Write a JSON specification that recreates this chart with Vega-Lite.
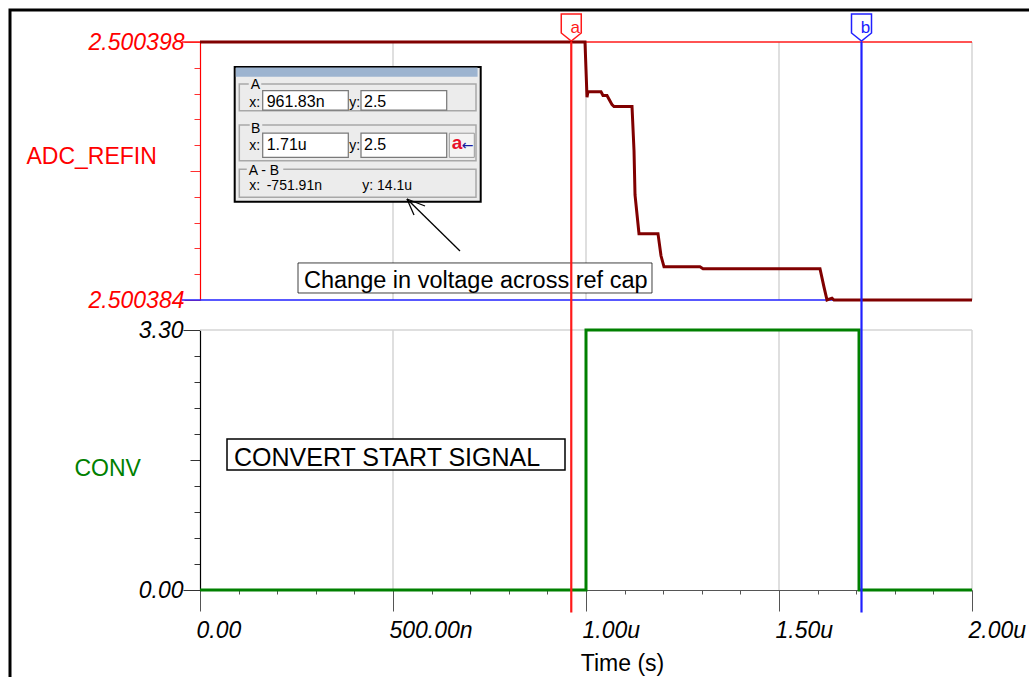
{
  "$schema": "https://vega.github.io/schema/vega-lite/v6.json",
  "width": 1021,
  "height": 669,
  "autosize": {"type": "none"},
  "padding": {"left": 10, "top": 10, "right": -2, "bottom": -2},
  "background": "white",
  "config": {"view": {"stroke": "#000000", "strokeWidth": 3}, "font": "Liberation Sans"},
  "datasets": {
    "refin": [
      {"t": 0, "v": 2.500398},
      {"t": 0.9974, "v": 2.500398},
      {"t": 1.0, "v": 2.5003965},
      {"t": 1.0026, "v": 2.500395},
      {"t": 1.0052, "v": 2.5003953},
      {"t": 1.0389, "v": 2.5003953},
      {"t": 1.044, "v": 2.5003951},
      {"t": 1.0544, "v": 2.5003951},
      {"t": 1.0622, "v": 2.5003948},
      {"t": 1.0674, "v": 2.5003946},
      {"t": 1.0725, "v": 2.5003945},
      {"t": 1.1192, "v": 2.5003945},
      {"t": 1.1244, "v": 2.5003921},
      {"t": 1.127, "v": 2.5003897},
      {"t": 1.1373, "v": 2.5003876},
      {"t": 1.1865, "v": 2.5003876},
      {"t": 1.1943, "v": 2.5003864},
      {"t": 1.2021, "v": 2.5003858},
      {"t": 1.2953, "v": 2.5003858},
      {"t": 1.3031, "v": 2.5003857},
      {"t": 1.6062, "v": 2.5003857},
      {"t": 1.6166, "v": 2.5003847},
      {"t": 1.6244, "v": 2.500384},
      {"t": 1.6373, "v": 2.5003841},
      {"t": 1.6425, "v": 2.500384},
      {"t": 2.0, "v": 2.500384}
    ],
    "conv": [
      {"i": 0, "t": 0, "v": 0},
      {"i": 1, "t": 1.0, "v": 0},
      {"i": 2, "t": 1.0, "v": 3.3},
      {"i": 3, "t": 1.7073, "v": 3.3},
      {"i": 4, "t": 1.7073, "v": 0},
      {"i": 5, "t": 2.0, "v": 0}
    ],
    "cursors": [
      {"cursor": "a", "t": 0.96183, "v": 2.500398},
      {"cursor": "b", "t": 1.71374, "v": 2.500384}
    ],
    "grid": [{"t": 0.5}, {"t": 1.0}, {"t": 1.5}, {"t": 2.0}],
    "boxes": [
      {"kind": "panel", "t": 0.0899, "t2": 0.7272, "v": 2.50039664, "v2": 2.50038933},
      {"kind": "titlebar", "t": 0.09508, "t2": 0.71684, "v": 2.50039657, "v2": 2.50039616},
      {"kind": "group", "t": 0.10181, "t2": 0.71503, "v": 2.50039572, "v2": 2.50039427},
      {"kind": "group", "t": 0.10181, "t2": 0.71503, "v": 2.5003935, "v2": 2.50039156},
      {"kind": "group", "t": 0.10181, "t2": 0.71503, "v": 2.50039109, "v2": 2.50038957},
      {"kind": "labelbg", "t": 0.12694, "t2": 0.15803, "v": 2.50039605, "v2": 2.50039545},
      {"kind": "labelbg", "t": 0.12953, "t2": 0.16062, "v": 2.50039371, "v2": 2.50039306},
      {"kind": "labelbg", "t": 0.12176, "t2": 0.21503, "v": 2.50039138, "v2": 2.50039073},
      {"kind": "field", "t": 0.16244, "t2": 0.3842, "v": 2.50039536, "v2": 2.50039431},
      {"kind": "field", "t": 0.4171, "t2": 0.63912, "v": 2.50039536, "v2": 2.50039431},
      {"kind": "field", "t": 0.16244, "t2": 0.3842, "v": 2.50039305, "v2": 2.50039174},
      {"kind": "field", "t": 0.4171, "t2": 0.63912, "v": 2.50039305, "v2": 2.50039174},
      {"kind": "button", "t": 0.64585, "t2": 0.71062, "v": 2.50039305, "v2": 2.50039174},
      {"kind": "note", "t": 0.25389, "t2": 1.17098, "v": 2.50038601, "v2": 2.50038438}
    ],
    "texts": [
      {"text": "A", "t": 0.13135, "v": 2.50039547, "role": "label"},
      {"text": "x:", "t": 0.12772, "v": 2.50039445, "role": "label"},
      {"text": "961.83n", "t": 0.1728, "v": 2.50039445, "role": "value"},
      {"text": "y:", "t": 0.38679, "v": 2.50039445, "role": "label"},
      {"text": "2.5", "t": 0.42487, "v": 2.50039445, "role": "value"},
      {"text": "B", "t": 0.13212, "v": 2.50039308, "role": "label"},
      {"text": "x:", "t": 0.12772, "v": 2.50039214, "role": "label"},
      {"text": "1.71u", "t": 0.1728, "v": 2.50039214, "role": "value"},
      {"text": "y:", "t": 0.38679, "v": 2.50039214, "role": "label"},
      {"text": "2.5", "t": 0.42487, "v": 2.50039214, "role": "value"},
      {"text": "a", "t": 0.65207, "v": 2.50039218, "role": "btnA"},
      {"text": "←", "t": 0.67798, "v": 2.50039214, "role": "btnArrow"},
      {"text": "A - B", "t": 0.12617, "v": 2.50039078, "role": "label"},
      {"text": "x:", "t": 0.12772, "v": 2.50038997, "role": "label"},
      {"text": "-751.91n", "t": 0.1728, "v": 2.50038997, "role": "label"},
      {"text": "y: 14.1u", "t": 0.42047, "v": 2.50038997, "role": "label"},
      {"text": "Change in voltage across ref cap", "t": 0.26943, "v": 2.50038467, "role": "note"}
    ],
    "arrow": [
      {"t": 0.67358, "v": 2.50038666, "t2": 0.53627, "v2": 2.50038948},
      {"t": 0.53627, "v": 2.50038948, "t2": 0.5544, "v2": 2.50038861},
      {"t": 0.53627, "v": 2.50038948, "t2": 0.5829, "v2": 2.5003891}
    ],
    "notesBottom": [
      {"text": "CONVERT START SIGNAL", "t": 0.06995, "t2": 0.9456, "v": 1.9165, "v2": 1.5231, "tx": 0.08808, "vy": 1.5738}
    ]
  },
  "layer": [
    {
      "layer": [
        {
          "data": {"name": "grid"},
          "mark": {"type": "rule", "color": "#d4d4d4", "strokeWidth": 1.5},
          "encoding": {
            "x": {
              "field": "t", "type": "quantitative",
              "scale": {"domain": [0, 2], "range": [190, 962], "nice": false, "zero": false},
              "axis": {
                "orient": "bottom", "offset": -89,
                "values": [0,0.05,0.1,0.15,0.2,0.25,0.3,0.35,0.4,0.45,0.5,0.55,0.6,0.65,0.7,0.75,0.8,0.85,0.9,0.95,1,1.05,1.1,1.15,1.2,1.25,1.3,1.35,1.4,1.45,1.5,1.55,1.6,1.65,1.7,1.75,1.8,1.85,1.9,1.95,2],
                "domain": true, "ticks": true, "labels": true,
                "domainColor": "#555555", "domainWidth": 1,
                "tickColor": "#555555", "tickWidth": 1,
                "tickSize": {"condition": [{"test": "abs(datum.value*2-round(datum.value*2))<0.001", "value": 21}, {"test": "abs(datum.value*4-round(datum.value*4))<0.001", "value": 11}], "value": 4},
                "labelExpr": "abs(datum.value*2-round(datum.value*2))<0.001 ? (datum.value==0 ? '0.00' : (datum.value<0.99 ? format(datum.value*1000,'.2f')+'n' : format(datum.value,'.2f')+'u')) : ''",
                "labelFont": "Liberation Sans", "labelFontSize": 23, "labelFontStyle": "italic", "labelColor": "#000000",
                "labelAlign": "left", "labelBaseline": "top", "labelPadding": 8, "labelOffset": -4,
                "labelOverlap": false, "labelFlush": false, "labelBound": false,
                "grid": false,
                "title": "Time (s)", "titleFont": "Liberation Sans", "titleFontSize": 23, "titleFontWeight": "normal", "titleColor": "#000000",
                "titleX": 612, "titleY": 80, "titleAlign": "center", "titleBaseline": "alphabetic", "titleAngle": 0
              }
            },
            "y": {
              "datum": 3.3, "type": "quantitative",
              "scale": {"domain": [0, 3.3], "range": [580, 320], "nice": false, "zero": false},
              "axis": {
                "orient": "left", "offset": -190,
                "values": [0,0.33,0.66,0.99,1.32,1.65,1.98,2.31,2.64,2.97,3.3],
                "domain": true, "ticks": true, "labels": true,
                "domainColor": "#000000", "domainWidth": 1.2,
                "tickColor": "#333333", "tickWidth": 1,
                "tickSize": {"condition": [{"test": "datum.value<0.01 || datum.value>3.29", "value": 17}, {"test": "abs(datum.value-1.65)<0.01", "value": 10}], "value": 6},
                "labelExpr": "(datum.value<0.01 || datum.value>3.29) ? format(datum.value,'.2f') : ''",
                "labelFont": "Liberation Sans", "labelFontSize": 23, "labelFontStyle": "italic", "labelColor": "#000000",
                "labelPadding": 0, "labelOverlap": false, "labelFlush": false, "labelBound": false,
                "grid": false,
                "title": "CONV", "titleFont": "Liberation Sans", "titleFontSize": 23, "titleFontWeight": "normal", "titleColor": "#008000",
                "titleAngle": 0, "titleAlign": "left", "titleBaseline": "alphabetic", "titleX": -126, "titleY": 465
              }
            },
            "y2": {"datum": 0}
          }
        },
        {
          "data": {"values": [{}]},
          "mark": {"type": "rule", "color": "#d4d4d4", "strokeWidth": 1.5},
          "encoding": {
            "x": {"datum": 0, "type": "quantitative", "scale": {"domain": [0, 2], "range": [190, 962], "nice": false, "zero": false}},
            "x2": {"datum": 2},
            "y": {"datum": 3.3, "type": "quantitative", "scale": {"domain": [0, 3.3], "range": [580, 320], "nice": false, "zero": false}}
          }
        },
        {
          "data": {"name": "notesBottom"},
          "mark": {"type": "rect", "fill": "#ffffff", "stroke": "#000000", "strokeWidth": 1.5},
          "encoding": {
            "x": {"field": "t", "type": "quantitative", "scale": {"domain": [0, 2], "range": [190, 962], "nice": false, "zero": false}},
            "x2": {"field": "t2"},
            "y": {"field": "v", "type": "quantitative", "scale": {"domain": [0, 3.3], "range": [580, 320], "nice": false, "zero": false}},
            "y2": {"field": "v2"}
          }
        },
        {
          "data": {"name": "notesBottom"},
          "mark": {"type": "text", "align": "left", "baseline": "alphabetic", "fontSize": 25, "color": "#000000", "font": "Liberation Sans"},
          "encoding": {
            "x": {"field": "tx", "type": "quantitative", "scale": {"domain": [0, 2], "range": [190, 962], "nice": false, "zero": false}},
            "y": {"field": "vy", "type": "quantitative", "scale": {"domain": [0, 3.3], "range": [580, 320], "nice": false, "zero": false}},
            "text": {"field": "text"}
          }
        },
        {
          "data": {"name": "conv"},
          "mark": {"type": "line", "color": "#008000", "strokeWidth": 3},
          "encoding": {
            "x": {"field": "t", "type": "quantitative", "scale": {"domain": [0, 2], "range": [190, 962], "nice": false, "zero": false}},
            "y": {"field": "v", "type": "quantitative", "scale": {"domain": [0, 3.3], "range": [580, 320], "nice": false, "zero": false}},
            "order": {"field": "i", "type": "quantitative"}
          }
        }
      ]
    },
    {
      "layer": [
        {
          "data": {"name": "grid"},
          "mark": {"type": "rule", "color": "#d4d4d4", "strokeWidth": 1.5},
          "encoding": {
            "x": {"field": "t", "type": "quantitative", "scale": {"domain": [0, 2], "range": [190, 962], "nice": false, "zero": false}},
            "y": {
              "datum": 2.500398, "type": "quantitative",
              "scale": {"domain": [2.500384, 2.500398], "range": [290, 32], "nice": false, "zero": false},
              "axis": {
                "orient": "left", "offset": -190,
                "values": [2.500384,2.5003854,2.5003868,2.5003882,2.5003896,2.500391,2.5003924,2.5003938,2.5003952,2.5003966,2.500398],
                "domain": true, "ticks": true, "labels": true,
                "domainColor": "#ff0000", "domainWidth": 1.2,
                "tickColor": "#ff3030", "tickWidth": 1,
                "tickSize": {"condition": [{"test": "abs(datum.value-2.500391)>0.0000065", "value": 16}, {"test": "abs(datum.value-2.500391)<0.0000001", "value": 10}], "value": 6},
                "labelExpr": "abs(datum.value-2.500391)>0.0000065 ? format(datum.value,'.6f') : ''",
                "labelFont": "Liberation Sans", "labelFontSize": 23, "labelFontStyle": "italic", "labelColor": "#ff0000",
                "labelPadding": 0, "labelOverlap": false, "labelFlush": false, "labelBound": false,
                "grid": false,
                "title": "ADC_REFIN", "titleFont": "Liberation Sans", "titleFontSize": 23, "titleFontWeight": "normal", "titleColor": "#ff0000",
                "titleAngle": 0, "titleAlign": "left", "titleBaseline": "alphabetic", "titleX": -174, "titleY": 153
              }
            },
            "y2": {"datum": 2.500384}
          }
        },
        {
          "data": {"name": "boxes"},
          "mark": {"type": "rect"},
          "encoding": {
            "x": {"field": "t", "type": "quantitative", "scale": {"domain": [0, 2], "range": [190, 962], "nice": false, "zero": false}},
            "x2": {"field": "t2"},
            "y": {"field": "v", "type": "quantitative", "scale": {"domain": [2.500384, 2.500398], "range": [290, 32], "nice": false, "zero": false}},
            "y2": {"field": "v2"},
            "fill": {"field": "kind", "type": "nominal", "scale": {"domain": ["panel", "titlebar", "group", "field", "button", "note", "labelbg"], "range": ["#ececec", "#9db4d0", "#ececec", "#ffffff", "#f4f4f4", "#ffffff", "#ececec"]}, "legend": null},
            "stroke": {"field": "kind", "type": "nominal", "scale": {"domain": ["panel", "titlebar", "group", "field", "button", "note", "labelbg", "a", "b"], "range": ["#000000", "#9db4d0", "#a8a8a8", "#7a7a7a", "#9a9a9a", "#000000", "#ececec", "#ff1a1a", "#2020ff"]}, "legend": null},
            "strokeWidth": {"field": "kind", "type": "ordinal", "scale": {"domain": ["panel", "titlebar", "group", "field", "button", "note", "labelbg"], "range": [2, 0.5, 1, 1.2, 1, 1.5, 0.5]}, "legend": null}
          }
        },
        {
          "data": {"name": "texts"},
          "transform": [{"filter": "datum.role == 'label'"}],
          "mark": {"type": "text", "align": "left", "baseline": "alphabetic", "fontSize": 14, "color": "#000000", "font": "Liberation Sans"},
          "encoding": {
            "x": {"field": "t", "type": "quantitative", "scale": {"domain": [0, 2], "range": [190, 962], "nice": false, "zero": false}},
            "y": {"field": "v", "type": "quantitative", "scale": {"domain": [2.500384, 2.500398], "range": [290, 32], "nice": false, "zero": false}},
            "text": {"field": "text"}
          }
        },
        {
          "data": {"name": "texts"},
          "transform": [{"filter": "datum.role == 'value'"}],
          "mark": {"type": "text", "align": "left", "baseline": "alphabetic", "fontSize": 16, "color": "#000000", "font": "Liberation Sans"},
          "encoding": {
            "x": {"field": "t", "type": "quantitative", "scale": {"domain": [0, 2], "range": [190, 962], "nice": false, "zero": false}},
            "y": {"field": "v", "type": "quantitative", "scale": {"domain": [2.500384, 2.500398], "range": [290, 32], "nice": false, "zero": false}},
            "text": {"field": "text"}
          }
        },
        {
          "data": {"name": "texts"},
          "transform": [{"filter": "datum.role == 'btnA'"}],
          "mark": {"type": "text", "align": "left", "baseline": "alphabetic", "fontSize": 19, "fontWeight": "bold", "color": "#e8102a", "font": "Liberation Sans"},
          "encoding": {
            "x": {"field": "t", "type": "quantitative", "scale": {"domain": [0, 2], "range": [190, 962], "nice": false, "zero": false}},
            "y": {"field": "v", "type": "quantitative", "scale": {"domain": [2.500384, 2.500398], "range": [290, 32], "nice": false, "zero": false}},
            "text": {"field": "text"}
          }
        },
        {
          "data": {"name": "texts"},
          "transform": [{"filter": "datum.role == 'btnArrow'"}],
          "mark": {"type": "text", "align": "left", "baseline": "alphabetic", "fontSize": 14, "color": "#1a1aa0", "font": "DejaVu Sans"},
          "encoding": {
            "x": {"field": "t", "type": "quantitative", "scale": {"domain": [0, 2], "range": [190, 962], "nice": false, "zero": false}},
            "y": {"field": "v", "type": "quantitative", "scale": {"domain": [2.500384, 2.500398], "range": [290, 32], "nice": false, "zero": false}},
            "text": {"field": "text"}
          }
        },
        {
          "data": {"name": "texts"},
          "transform": [{"filter": "datum.role == 'note'"}],
          "mark": {"type": "text", "align": "left", "baseline": "alphabetic", "fontSize": 23.5, "color": "#000000", "font": "Liberation Sans"},
          "encoding": {
            "x": {"field": "t", "type": "quantitative", "scale": {"domain": [0, 2], "range": [190, 962], "nice": false, "zero": false}},
            "y": {"field": "v", "type": "quantitative", "scale": {"domain": [2.500384, 2.500398], "range": [290, 32], "nice": false, "zero": false}},
            "text": {"field": "text"}
          }
        },
        {
          "data": {"name": "arrow"},
          "mark": {"type": "rule", "color": "#000000", "strokeWidth": 1.3},
          "encoding": {
            "x": {"field": "t", "type": "quantitative", "scale": {"domain": [0, 2], "range": [190, 962], "nice": false, "zero": false}},
            "x2": {"field": "t2"},
            "y": {"field": "v", "type": "quantitative", "scale": {"domain": [2.500384, 2.500398], "range": [290, 32], "nice": false, "zero": false}},
            "y2": {"field": "v2"}
          }
        },
        {
          "data": {"name": "cursors"},
          "mark": {"type": "rule", "strokeWidth": 1.6, "xOffset": -18},
          "encoding": {
            "x": {"datum": 0, "type": "quantitative", "scale": {"domain": [0, 2], "range": [190, 962], "nice": false, "zero": false}},
            "x2": {"datum": 2},
            "y": {"field": "v", "type": "quantitative", "scale": {"domain": [2.500384, 2.500398], "range": [290, 32], "nice": false, "zero": false}},
            "color": {"field": "cursor", "type": "nominal", "scale": {"domain": ["a", "b"], "range": ["#ff1a1a", "#2020ff"]}, "legend": null}
          }
        },
        {
          "data": {"name": "refin"},
          "mark": {"type": "line", "color": "#800000", "strokeWidth": 3},
          "encoding": {
            "x": {"field": "t", "type": "quantitative", "scale": {"domain": [0, 2], "range": [190, 962], "nice": false, "zero": false}},
            "y": {"field": "v", "type": "quantitative", "scale": {"domain": [2.500384, 2.500398], "range": [290, 32], "nice": false, "zero": false}}
          }
        },
        {
          "data": {"name": "cursors"},
          "mark": {"type": "rule", "strokeWidth": 2.2, "y2Offset": 312.5},
          "encoding": {
            "x": {"field": "t", "type": "quantitative", "scale": {"domain": [0, 2], "range": [190, 962], "nice": false, "zero": false}},
            "y": {"datum": 2.500398, "type": "quantitative", "scale": {"domain": [2.500384, 2.500398], "range": [290, 32], "nice": false, "zero": false}},
            "y2": {"datum": 2.500384},
            "color": {"field": "cursor", "type": "nominal", "scale": {"domain": ["a", "b"], "range": ["#ff1a1a", "#2020ff"]}, "legend": null}
          }
        },
        {
          "data": {"name": "cursors"},
          "mark": {"type": "point", "shape": "M -1 -1.35 L 1 -1.35 L 1 0.55 L 0 1.35 L -1 0.55 Z", "size": 400, "filled": true, "fill": "#ffffff", "strokeWidth": 1.5, "opacity": 1, "yOffset": -14.5},
          "encoding": {
            "x": {"field": "t", "type": "quantitative", "scale": {"domain": [0, 2], "range": [190, 962], "nice": false, "zero": false}},
            "y": {"datum": 2.500398, "type": "quantitative", "scale": {"domain": [2.500384, 2.500398], "range": [290, 32], "nice": false, "zero": false}},
            "stroke": {"field": "cursor", "type": "nominal", "scale": {"domain": ["panel", "titlebar", "group", "field", "button", "note", "labelbg", "a", "b"], "range": ["#000000", "#9db4d0", "#a8a8a8", "#7a7a7a", "#9a9a9a", "#000000", "#ececec", "#ff1a1a", "#2020ff"]}, "legend": null}
          }
        },
        {
          "data": {"name": "cursors"},
          "mark": {"type": "text", "align": "center", "baseline": "alphabetic", "fontSize": 17, "dx": 4, "yOffset": -9, "font": "Liberation Sans"},
          "encoding": {
            "x": {"field": "t", "type": "quantitative", "scale": {"domain": [0, 2], "range": [190, 962], "nice": false, "zero": false}},
            "y": {"datum": 2.500398, "type": "quantitative", "scale": {"domain": [2.500384, 2.500398], "range": [290, 32], "nice": false, "zero": false}},
            "text": {"field": "cursor"},
            "color": {"field": "cursor", "type": "nominal", "scale": {"domain": ["a", "b"], "range": ["#ff1a1a", "#2020ff"]}, "legend": null}
          }
        }
      ]
    }
  ],
  "resolve": {"scale": {"y": "independent"}}
}
